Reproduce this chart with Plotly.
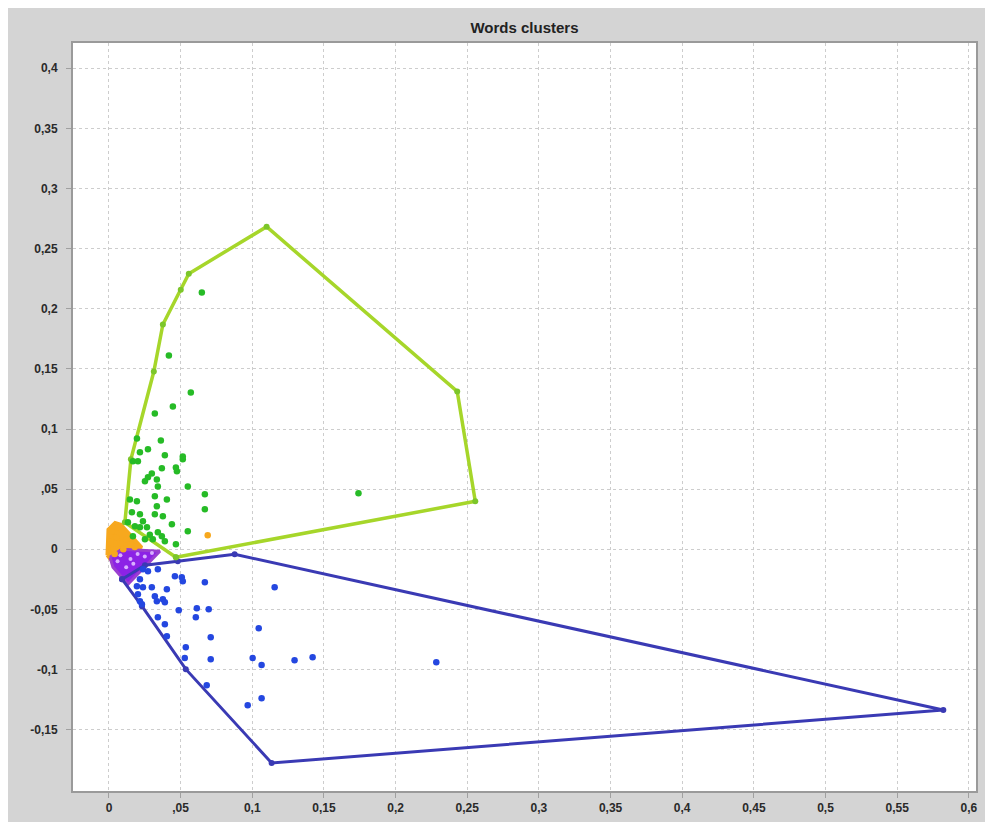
import plotly.graph_objects as go

# ---- tick labels ----
x_tickvals = [0, 0.05, 0.1, 0.15, 0.2, 0.25, 0.3, 0.35, 0.4, 0.45, 0.5, 0.55, 0.6]
x_ticktext = ["0", ",05", "0,1", "0,15", "0,2", "0,25", "0,3", "0,35", "0,4", "0,45", "0,5", "0,55", "0,6"]
y_tickvals = [-0.15, -0.1, -0.05, 0, 0.05, 0.1, 0.15, 0.2, 0.25, 0.3, 0.35, 0.4]
y_ticktext = ["-0,15", "-0,1", "-0,05", "0", ",05", "0,1", "0,15", "0,2", "0,25", "0,3", "0,35", "0,4"]

# ---- green cluster ----
green_x = [0.0446, 0.0320, 0.0195, 0.0362, 0.0216, 0.0272, 0.0390, 0.0515, 0.0167, 0.0202,
           0.0515, 0.0369, 0.0467, 0.0474, 0.0299, 0.0272, 0.0251, 0.0334, 0.0341, 0.0550,
           0.0669, 0.0669, 0.0320, 0.0404, 0.0146, 0.0195, 0.0334, 0.0320, 0.0376, 0.0216,
           0.0160, 0.0237, 0.0216, 0.0265, 0.0439, 0.0550, 0.0341, 0.0369, 0.0306, 0.0390,
           0.0467, 0.0181, 0.0132, 0.0167, 0.0251, 0.0648, 0.0418, 0.0571, 0.1741, 0.0285]
green_y = [0.1188, 0.1130, 0.0922, 0.0905, 0.0806, 0.0831, 0.0781, 0.0772, 0.0731, 0.0731,
           0.0748, 0.0673, 0.0681, 0.0648, 0.0631, 0.0598, 0.0565, 0.0581, 0.0523, 0.0523,
           0.0457, 0.0332, 0.0440, 0.0415, 0.0415, 0.0399, 0.0357, 0.0291, 0.0274, 0.0291,
           0.0307, 0.0233, 0.0183, 0.0183, 0.0208, 0.0150, 0.0141, 0.0108, 0.0083, 0.0066,
           0.0042, 0.0191, 0.0224, 0.0108, 0.0083, 0.2135, 0.1611, 0.1304, 0.0465, 0.0120]
green_hull_x = [0.0467, 0.2556, 0.2430, 0.1100, 0.0557, 0.0501, 0.0376, 0.0313, 0.0153, 0.0111, 0.0467]
green_hull_y = [-0.0066, 0.0399, 0.1312, 0.2682, 0.2292, 0.2159, 0.1869, 0.1478, 0.0748, 0.0224, -0.0066]

# ---- blue cluster ----
blue_x = [0.0237, 0.0272, 0.0341, 0.0460, 0.0508, 0.0515, 0.0669, 0.1156, 0.0216, 0.0195,
          0.0237, 0.0299, 0.0404, 0.0320, 0.0376, 0.0390, 0.0202, 0.0216, 0.0230, 0.0334,
          0.0487, 0.0613, 0.0696, 0.0606, 0.0341, 0.0390, 0.0404, 0.0710, 0.1045, 0.0536,
          0.0529, 0.0710, 0.1003, 0.1065, 0.1295, 0.1421, 0.0682, 0.1065, 0.0968, 0.2284]
blue_y = [-0.0166, -0.0183, -0.0166, -0.0224, -0.0233, -0.0266, -0.0274, -0.0316, -0.0249, -0.0307,
          -0.0316, -0.0316, -0.0332, -0.0390, -0.0415, -0.0440, -0.0374, -0.0432, -0.0457, -0.0432,
          -0.0507, -0.0490, -0.0498, -0.0565, -0.0565, -0.0623, -0.0723, -0.0731, -0.0656, -0.0814,
          -0.0905, -0.0914, -0.0905, -0.0963, -0.0922, -0.0897, -0.1130, -0.1238, -0.1296, -0.0939]
blue_hull_x = [0.0091, 0.0230, 0.0536, 0.1135, 0.5822, 0.0877, 0.0480, 0.0251, 0.0091]
blue_hull_y = [-0.0249, -0.0473, -0.0997, -0.1777, -0.1337, -0.0042, -0.0100, -0.0133, -0.0249]

# ---- orange cluster ----
orange_x = [0.0020, 0.0050, 0.0080, 0.0030, 0.0120, 0.0150, 0.0060, 0.0010, 0.0100, 0.0180, 0.0040, 0.0689]
orange_y = [0.0150, 0.0100, 0.0050, 0.0000, 0.0080, 0.0040, 0.0180, 0.0060, 0.0000, 0.0020, -0.0040, 0.0116]
orange_hull_x = [-0.0014, -0.0007, 0.0042, 0.0084, 0.0230, 0.0090, 0.0007, -0.0014]
orange_hull_y = [-0.0050, 0.0166, 0.0224, 0.0208, 0.0017, -0.0017, -0.0083, -0.0050]

# ---- purple cluster ----
purple_x = [0.0080, 0.0150, 0.0200, 0.0120, 0.0060, 0.0250, 0.0170, 0.0300]
purple_y = [-0.0050, -0.0080, -0.0040, -0.0150, -0.0100, -0.0060, -0.0120, -0.0030]
purple_hull_x = [0.0007, 0.0090, 0.0355, 0.0132, 0.0028, 0.0007]
purple_hull_y = [-0.0066, 0.0000, -0.0017, -0.0291, -0.0150, -0.0066]

GREEN_PT = "#26bb26"
GREEN_HULL = "#a6d62a"
BLUE_PT = "#2447e0"
BLUE_HULL = "#3a3ab4"
ORANGE = "#f7a81e"
PURPLE = "#8c22e6"
FONT = "Liberation Sans, Arial, sans-serif"

fig = go.Figure()

# hulls
fig.add_trace(go.Scatter(x=orange_hull_x, y=orange_hull_y, mode="lines", fill="toself",
                         fillcolor=ORANGE, line=dict(color=ORANGE, width=3), hoverinfo="skip"))
fig.add_trace(go.Scatter(x=purple_hull_x, y=purple_hull_y, mode="lines", fill="toself",
                         fillcolor=PURPLE, line=dict(color="#9a3fd0", width=3), hoverinfo="skip"))
fig.add_trace(go.Scatter(x=blue_hull_x, y=blue_hull_y, mode="lines+markers",
                         line=dict(color=BLUE_HULL, width=3),
                         marker=dict(color=BLUE_HULL, size=6)))
fig.add_trace(go.Scatter(x=green_hull_x, y=green_hull_y, mode="lines+markers",
                         line=dict(color=GREEN_HULL, width=3.5),
                         marker=dict(color="#7cc62a", size=6)))

# points
fig.add_trace(go.Scatter(x=green_x, y=green_y, mode="markers",
                         marker=dict(color=GREEN_PT, size=6.5)))
fig.add_trace(go.Scatter(x=blue_x, y=blue_y, mode="markers",
                         marker=dict(color=BLUE_PT, size=6.5)))
fig.add_trace(go.Scatter(x=orange_x, y=orange_y, mode="markers",
                         marker=dict(color=ORANGE, size=6.5)))
fig.add_trace(go.Scatter(x=purple_x, y=purple_y, mode="markers",
                         marker=dict(color="#d8b0ff", size=4)))

axis_common = dict(
    showgrid=True, gridcolor="#cdcdcd", griddash="3px,3px", gridwidth=1,
    zeroline=False, showline=True, linecolor="#9a9a9a", linewidth=2, mirror=True,
    ticks="outside", ticklen=5, tickcolor="#a0a0a0",
    tickfont=dict(family=FONT, size=12, color="#2a2a2a", weight="bold"),
)

fig.update_layout(
    width=977, height=814,
    margin=dict(l=65, r=7, t=35, b=30),
    paper_bgcolor="#d4d4d4",
    plot_bgcolor="#ffffff",
    showlegend=False,
    title=dict(text="<b>Words clusters</b>", x=0.5, xref="paper", y=20 / 814, yref="container",
               xanchor="center", yanchor="middle",
               font=dict(family=FONT, size=15, color="#222222")),
    xaxis=dict(range=[-0.0251, 0.605], tickvals=x_tickvals, ticktext=x_ticktext, **axis_common),
    yaxis=dict(range=[-0.201, 0.421], tickvals=y_tickvals, ticktext=y_ticktext,
               ticklabelstandoff=6, **axis_common),
)
fig.update_layout(title_y=1 - 20 / 814)

fig.write_html("out.html")
